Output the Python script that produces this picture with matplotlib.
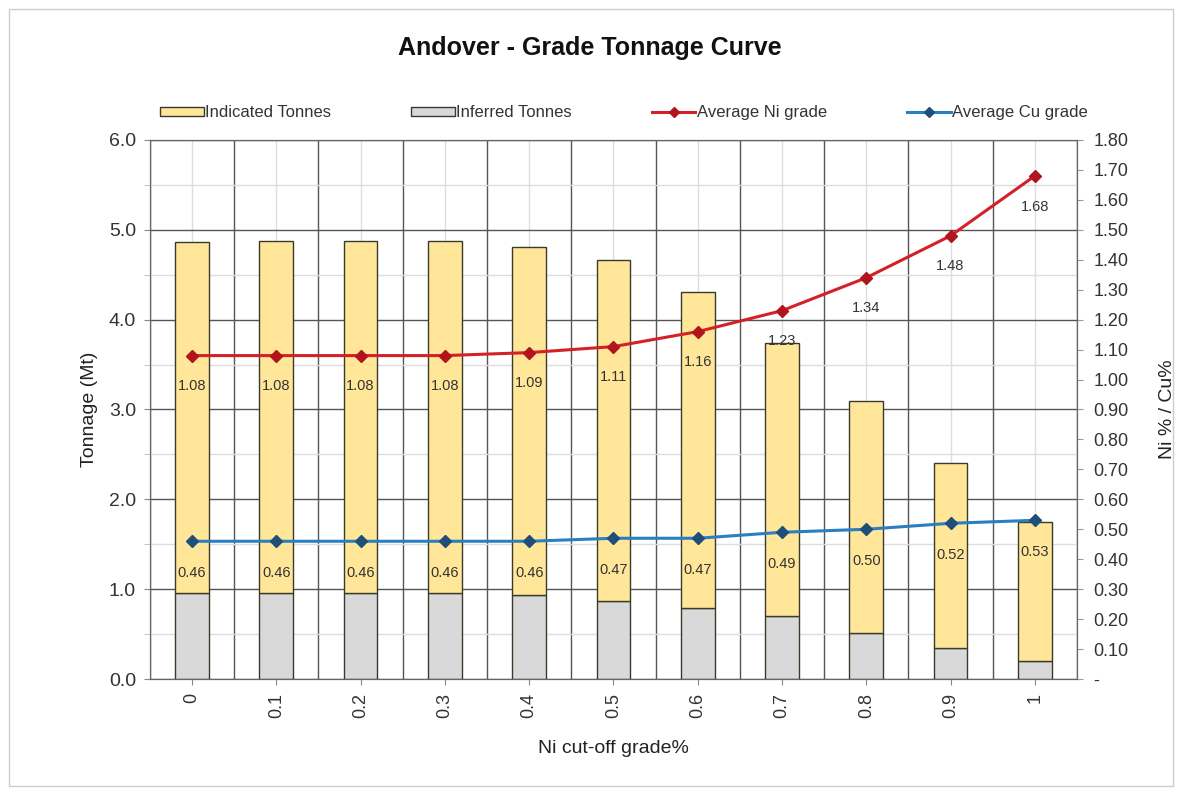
import numpy as np
import matplotlib
matplotlib.use('Agg')
import matplotlib.pyplot as plt
from matplotlib.patches import Rectangle, Patch
from matplotlib.lines import Line2D
from matplotlib.ticker import FuncFormatter, MultipleLocator

plt.rcParams['font.family'] = ['Liberation Sans', 'DejaVu Sans']

# Ni cut-off grade categories
cutoffs = ['0', '0.1', '0.2', '0.3', '0.4', '0.5', '0.6', '0.7', '0.8', '0.9', '1']
# tonnage (Mt)
total_tonnes = [4.86, 4.87, 4.87, 4.87, 4.81, 4.66, 4.31, 3.74, 3.09, 2.40, 1.75]
inferred_tonnes = [0.96, 0.96, 0.96, 0.96, 0.94, 0.87, 0.79, 0.70, 0.51, 0.35, 0.20]
indicated_tonnes = [t - i for t, i in zip(total_tonnes, inferred_tonnes)]
# grades (%)
ni_grade = [1.08, 1.08, 1.08, 1.08, 1.09, 1.11, 1.16, 1.23, 1.34, 1.48, 1.68]
cu_grade = [0.46, 0.46, 0.46, 0.46, 0.46, 0.47, 0.47, 0.49, 0.50, 0.52, 0.53]

YELLOW = '#FFE699'
GREY = '#D9D9D9'
EDGE = '#3a3a2a'
RED = '#D42027'
RED_M = '#B0141C'
BLUE = '#2A7FC0'
BLUE_M = '#1F4E79'

fig = plt.figure(figsize=(11.8, 7.89), dpi=100)
ax = fig.add_axes([0.127, 0.1394, 0.7857, 0.6832])
ax2 = ax.twinx()

x = np.arange(len(cutoffs))

# gridlines: dark at major, light at minor
ax.set_xlim(-0.5, len(cutoffs) - 0.5)
ax.set_ylim(0, 6)
for k in range(len(cutoffs) + 1):
    ax.axvline(k - 0.5, color='#555555', lw=1.0, zorder=0)
for k in range(len(cutoffs)):
    ax.axvline(k, color='#dddddd', lw=1.0, zorder=0)
for v in np.arange(0, 6.01, 1.0):
    ax.axhline(v, color='#555555', lw=1.0, zorder=0)
for v in np.arange(0.5, 6, 1.0):
    ax.axhline(v, color='#dddddd', lw=1.0, zorder=0)

ax.bar(x, inferred_tonnes, width=0.4, color=GREY, edgecolor=EDGE, lw=1.0, zorder=2)
ax.bar(x, indicated_tonnes, width=0.4, bottom=inferred_tonnes, color=YELLOW,
       edgecolor=EDGE, lw=1.0, zorder=2)

ax.set_xticks(x)
ax.set_xticklabels(cutoffs, rotation=90, fontsize=13, color='#333333')
ax.yaxis.set_major_locator(MultipleLocator(1.0))
ax.yaxis.set_minor_locator(MultipleLocator(0.5))
ax.yaxis.set_major_formatter(FuncFormatter(lambda v, p: '%.1f' % v))
ax.tick_params(axis='y', labelsize=14, labelcolor='#333333', direction='out',
               length=4, color='#888888', pad=6)
ax.tick_params(axis='y', which='minor', length=4, color='#bbbbbb')
ax.tick_params(axis='x', length=4, color='#888888', pad=6)
ax.set_ylabel('Tonnage (Mt)', fontsize=14, color='#222222', labelpad=8)
ax.set_xlabel('Ni cut-off grade%', fontsize=14, color='#222222', labelpad=16)
for s in ax.spines.values():
    s.set_color('#666666')

# right axis
ax2.set_ylim(0, 1.8)
ax2.plot(x, ni_grade, color=RED, lw=2.2, marker='D', markersize=6,
         markerfacecolor=RED_M, markeredgecolor=RED_M, zorder=5)
ax2.plot(x, cu_grade, color=BLUE, lw=2.2, marker='D', markersize=6,
         markerfacecolor=BLUE_M, markeredgecolor=BLUE_M, zorder=5)
for xi, v in zip(x, ni_grade):
    ax2.annotate('%.2f' % v, (xi, v), xytext=(0, -17), textcoords='offset points',
                 ha='center', va='top', fontsize=10.5, color='#333333')
for xi, v in zip(x, cu_grade):
    ax2.annotate('%.2f' % v, (xi, v), xytext=(0, -18), textcoords='offset points',
                 ha='center', va='top', fontsize=10.5, color='#333333')
ax2.yaxis.set_major_locator(MultipleLocator(0.1))
ax2.yaxis.set_major_formatter(FuncFormatter(lambda v, p: '-' if abs(v) < 1e-9 else '%.2f' % v))
ax2.tick_params(axis='y', labelsize=13, labelcolor='#333333', direction='out',
                length=4, color='#999999', pad=8)
ax2.set_ylabel('Ni % / Cu%', fontsize=14, color='#222222', labelpad=22)
for s in ax2.spines.values():
    s.set_color('#666666')

fig.suptitle('Andover - Grade Tonnage Curve', x=0.5, y=0.955, fontsize=18,
             fontweight='bold', color='#111111')

handles = [
    Patch(facecolor=YELLOW, edgecolor=EDGE, lw=1.0),
    Patch(facecolor=GREY, edgecolor=EDGE, lw=1.0),
    Line2D([], [], color=RED, lw=2.2, marker='D', markersize=5,
           markerfacecolor=RED_M, markeredgecolor=RED_M),
    Line2D([], [], color=BLUE, lw=2.2, marker='D', markersize=5,
           markerfacecolor=BLUE_M, markeredgecolor=BLUE_M),
]
labels = ['Indicated Tonnes', 'Inferred Tonnes', 'Average Ni grade', 'Average Cu grade']
fig.legend(handles, labels, loc='center', bbox_to_anchor=(0.529, 0.857), ncol=4,
           frameon=False, fontsize=12, handlelength=2.6, handleheight=0.5,
           handletextpad=0.1, columnspacing=4.8, labelcolor='#333333')

# chart border
fig.patches.append(Rectangle((0.008, 0.004), 0.986, 0.985, transform=fig.transFigure,
                             fill=False, edgecolor='#cccccc', lw=1.0))

fig.savefig('out.png', dpi=100)
